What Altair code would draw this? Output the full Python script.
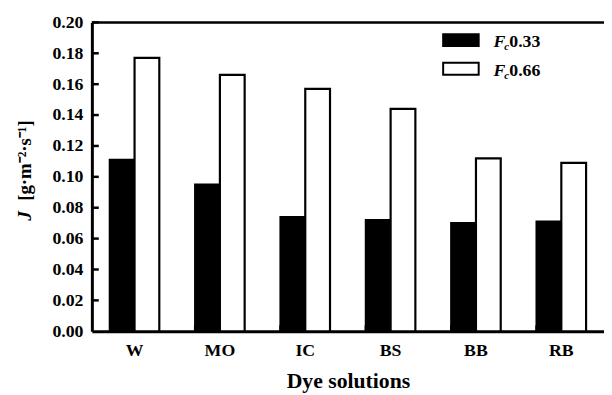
import altair as alt
import pandas as pd

categories = ["W", "MO", "IC", "BS", "BB", "RB"]
series = ["Fc0.33", "Fc0.66"]
values_033 = [0.111, 0.095, 0.074, 0.072, 0.070, 0.071]
values_066 = [0.177, 0.166, 0.157, 0.144, 0.112, 0.109]
y_ticks = [0.00, 0.02, 0.04, 0.06, 0.08, 0.10, 0.12, 0.14, 0.16, 0.18, 0.20]

W = 519
H = 313
FONT = "Liberation Serif"

rows = []
for c, a, b in zip(categories, values_033, values_066):
    rows.append({"cat": c, "series": series[0], "val": a})
    rows.append({"cat": c, "series": series[1], "val": b})
df = pd.DataFrame(rows)

yscale = alt.Scale(domain=[0, 0.2], nice=False, zero=True)
xscale = alt.Scale(paddingInner=0.42, paddingOuter=0.21)

x_axis = alt.Axis(title="Dye solutions", labelAngle=0, labelFont=FONT,
                  labelFontWeight="bold", labelFontSize=18, labelColor="black",
                  labelPadding=11, ticks=False, domainColor="black",
                  domainWidth=3, titleFont=FONT, titleFontSize=22,
                  titleFontWeight="bold", titleColor="black", titlePadding=11)
y_axis = alt.Axis(title=None, values=y_ticks, format=".2f", labelFont=FONT,
                  labelFontWeight="bold", labelFontSize=18, labelColor="black",
                  labelPadding=9, ticks=False, grid=False, domainColor="black",
                  domainWidth=3)

bars = alt.Chart(df).mark_bar(stroke="black", strokeWidth=2.2).encode(
    x=alt.X("cat:N", sort=categories, scale=xscale, axis=x_axis),
    xOffset=alt.XOffset("series:N", sort=series, scale=alt.Scale(paddingInner=0, paddingOuter=0)),
    y=alt.Y("val:Q", scale=yscale, axis=y_axis),
    fill=alt.Fill("series:N", scale=alt.Scale(domain=series, range=["black", "white"]), legend=None),
)

tick_df = pd.DataFrame({"val": y_ticks[1:]})
ytick_rules = alt.Chart(tick_df).mark_rule(color="black", strokeWidth=2.5).encode(
    y=alt.Y("val:Q", scale=yscale, axis=y_axis),
    x=alt.value(0), x2=alt.value(7),
)

xtick_df = pd.DataFrame({"cat": categories[1:]})
xtick_rules = alt.Chart(xtick_df).mark_rule(color="black", strokeWidth=2.5).encode(
    x=alt.X("cat:N", sort=categories, bandPosition=0, axis=x_axis),
    y=alt.value(H - 6), y2=alt.value(H),
)

one = pd.DataFrame({"a": [0]})
top_line = alt.Chart(one).mark_rule(color="black", strokeWidth=2.5).encode(
    x=alt.value(0), x2=alt.value(W), y=alt.value(0),
)

ytitle_j = alt.Chart(one).mark_text(font=FONT, fontSize=20, fontWeight="bold",
                                    fontStyle="italic", angle=270, color="black",
                                    align="center", baseline="middle").encode(
    x=alt.value(-68), y=alt.value(196), text=alt.value("J"))
ytitle_rest = alt.Chart(one).mark_text(font=FONT, fontSize=19, fontWeight="bold",
                                       angle=270, color="black",
                                       align="center", baseline="middle").encode(
    x=alt.value(-68), y=alt.value(140), text=alt.value("[g·m⁻²·s⁻¹]"))

legend_layers = []
for i, (s, fillc) in enumerate(zip(series, ["black", "white"])):
    y0 = 12 + i * 29
    box = alt.Chart(one).mark_rect(fill=fillc, stroke="black", strokeWidth=2).encode(
        x=alt.value(356), x2=alt.value(392), y=alt.value(y0), y2=alt.value(y0 + 12))
    tf = alt.Chart(one).mark_text(font=FONT, fontSize=18, fontWeight="bold", fontStyle="italic",
                                  color="black", align="left", baseline="middle").encode(
        x=alt.value(407), y=alt.value(y0 + 8), text=alt.value("F"))
    tc = alt.Chart(one).mark_text(font=FONT, fontSize=11, fontWeight="bold", fontStyle="italic",
                                  color="black", align="left", baseline="middle").encode(
        x=alt.value(418), y=alt.value(y0 + 13), text=alt.value("c"))
    tv = alt.Chart(one).mark_text(font=FONT, fontSize=18, fontWeight="bold",
                                  color="black", align="left", baseline="middle").encode(
        x=alt.value(423), y=alt.value(y0 + 8), text=alt.value(s[2:]))
    legend_layers += [box, tf, tc, tv]

chart = alt.layer(bars, ytick_rules, xtick_rules, top_line, ytitle_j, ytitle_rest, *legend_layers).properties(
    width=W, height=H,
    padding={"left": 85, "top": 12, "right": 0, "bottom": 62},
    autosize="none",
).configure_view(stroke=None).configure(background="white")

chart.save("out.html", embed_options={"renderer": "svg", "actions": False})
